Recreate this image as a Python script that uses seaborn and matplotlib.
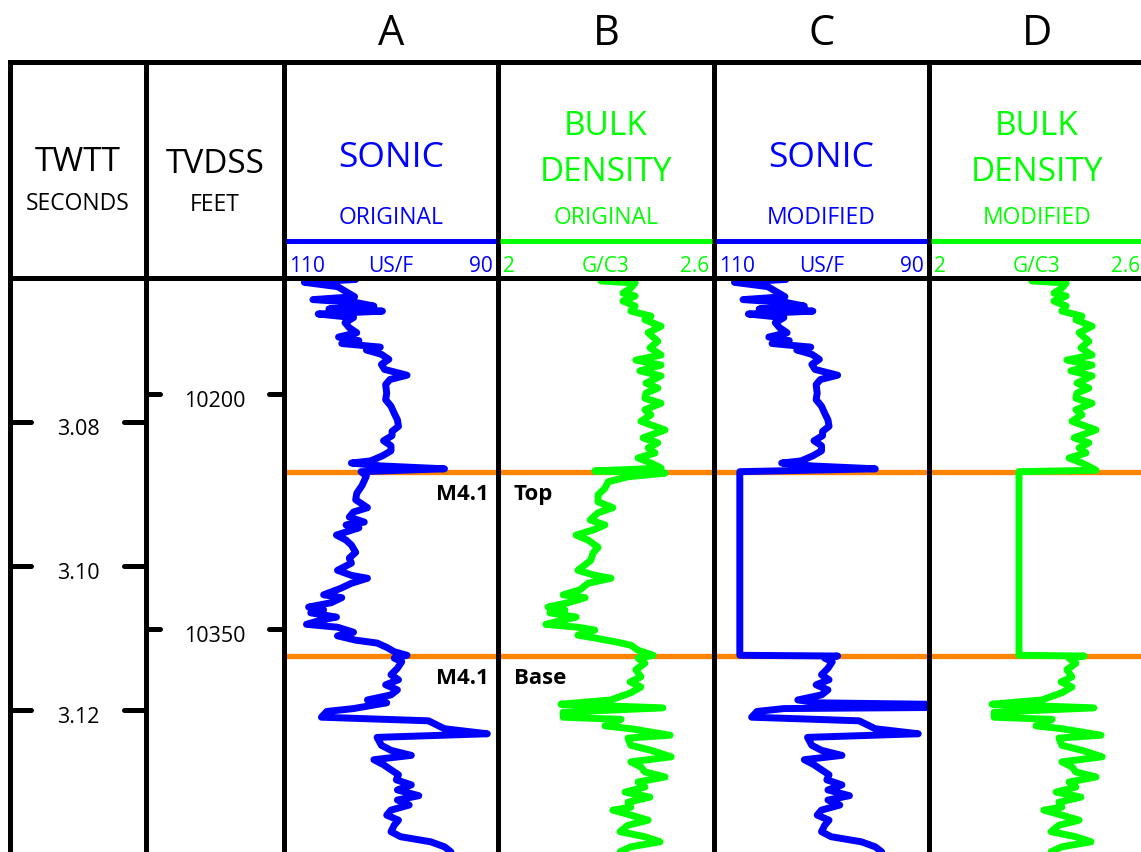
import numpy as np
import pandas as pd
import matplotlib
matplotlib.use("Agg")
import matplotlib.pyplot as plt
import seaborn as sns

# ---------------------------------------------------------------------------
# Log data (two-way time in milliseconds)
# ---------------------------------------------------------------------------
# Sonic, US/F -- above the M4.1 Top marker
sonic_upper_twtt = [3060.0, 3060.2, 3060.6, 3061.2, 3061.9, 3062.6, 3063.0, 3063.4, 3063.9, 3064.3,
                    3064.6, 3065.0, 3065.5, 3066.2, 3066.9, 3067.6, 3068.2, 3068.7, 3069.1, 3069.6,
                    3070.0, 3070.6, 3071.3, 3072.0, 3072.7, 3073.5, 3074.1, 3074.8, 3076.0, 3076.9,
                    3077.8, 3078.8, 3079.7, 3080.6, 3081.3, 3081.9, 3082.6, 3083.3, 3084.0, 3084.7,
                    3085.4, 3085.7, 3086.1, 3086.5]
sonic_upper = [105.0, 103.3, 108.1, 105.0, 104.2, 103.4, 107.3, 103.3, 101.6, 105.8,
               100.8, 106.8, 103.5, 104.3, 103.9, 103.2, 104.9, 103.0, 104.6, 101.0,
               102.3, 100.9, 100.2, 100.9, 100.6, 98.5, 100.1, 100.5, 100.4, 100.5,
               100.0, 99.7, 99.4, 99.3, 99.9, 99.9, 100.7, 100.0, 100.0, 100.8,
               101.9, 103.7, 100.9, 95.0]

# Sonic -- between M4.1 Top and Base
sonic_zone_twtt = [3086.9, 3087.5, 3088.8, 3089.9, 3090.8, 3091.9, 3092.5, 3093.2, 3093.9, 3094.3,
                   3094.7, 3095.7, 3096.4, 3097.1, 3098.1, 3098.9, 3099.6, 3100.6, 3101.3, 3101.7,
                   3102.4, 3103.1, 3104.0, 3104.4, 3105.1, 3105.7, 3106.1, 3106.5, 3107.1, 3107.5,
                   3108.1, 3108.5, 3109.2, 3109.7, 3110.3, 3110.7, 3111.3, 3111.9, 3112.4]
sonic_zone = [102.8, 102.3, 102.7, 103.2, 103.3, 102.2, 103.5, 103.9, 102.5, 104.2,
              103.0, 105.1, 104.2, 103.7, 103.3, 103.9, 103.7, 105.0, 103.7, 102.2,
              103.7, 104.7, 106.3, 104.6, 105.6, 107.7, 106.3, 107.5, 105.1, 106.5,
              107.9, 105.0, 103.5, 105.0, 103.3, 101.3, 100.4, 99.7, 98.5]

# Sonic -- below the M4.1 Base marker
sonic_lower_twtt = [3112.8, 3113.3, 3114.2, 3115.1, 3115.8, 3116.5, 3117.2, 3117.9, 3118.6, 3119.0,
                    3119.8, 3120.2, 3121.0, 3121.5, 3122.6, 3123.3, 3123.8, 3124.9, 3125.6, 3126.3,
                    3126.9, 3127.6, 3128.3, 3129.0, 3129.7, 3130.4, 3131.1, 3131.9, 3132.5, 3133.2,
                    3133.9, 3134.6, 3135.3, 3136.0, 3136.9, 3137.6, 3138.3, 3139.0, 3139.7]
sonic_lower = [99.7, 99.0, 99.4, 100.0, 99.3, 100.5, 99.4, 100.0, 102.2, 100.4,
               103.5, 106.0, 106.5, 96.5, 95.0, 91.0, 101.3, 100.9, 100.0, 98.1,
               101.6, 100.7, 100.0, 99.3, 99.5, 98.1, 99.4, 97.4, 99.4, 98.3,
               100.0, 100.4, 99.3, 99.7, 100.0, 99.1, 96.3, 95.0, 94.4]

# Modified sonic: constant fill across the interval plus an off-scale spike below Base
sonic_fill_twtt = [3086.9, 3112.4, 3112.5]
sonic_fill = [107.6, 107.6, 98.5]
sonic_spike_twtt = [3119.3, 3119.6]
sonic_spike = [85.0, 85.0]

# Bulk density, G/C3 -- above the M4.1 Top marker
density_upper_twtt = [3060.0, 3060.4, 3060.7, 3061.4, 3062.1, 3062.5, 3063.2, 3063.9, 3064.6, 3065.3,
                      3065.8, 3066.7, 3067.6, 3068.8, 3069.7, 3070.7, 3071.4, 3072.1, 3072.9, 3073.6,
                      3074.6, 3075.3, 3076.0, 3076.7, 3077.4, 3078.3, 3079.0, 3079.9, 3080.6, 3081.1,
                      3081.8, 3082.2, 3082.9, 3083.6, 3084.3, 3085.0, 3085.7, 3086.4]
density_upper = [2.330, 2.286, 2.381, 2.369, 2.347, 2.381, 2.347, 2.381, 2.369, 2.425,
                 2.408, 2.453, 2.417, 2.444, 2.422, 2.453, 2.383, 2.453, 2.394, 2.453,
                 2.411, 2.444, 2.411, 2.408, 2.453, 2.408, 2.425, 2.397, 2.436, 2.464,
                 2.425, 2.403, 2.444, 2.417, 2.436, 2.389, 2.425, 2.453]

# Bulk density -- between M4.1 Top and Base
density_zone_twtt = [3086.8, 3087.1, 3087.6, 3088.3, 3089.2, 3090.1, 3091.1, 3091.9, 3092.6, 3093.6,
                     3094.3, 3095.0, 3095.7, 3096.4, 3097.4, 3098.2, 3099.2, 3100.6, 3101.3, 3101.7,
                     3102.4, 3103.3, 3104.0, 3104.4, 3105.1, 3105.7, 3106.1, 3106.5, 3107.1, 3107.5,
                     3108.1, 3108.5, 3108.9, 3109.6, 3110.0, 3110.6, 3111.0, 3111.7, 3112.4]
density_zone = [2.269, 2.464, 2.361, 2.306, 2.297, 2.278, 2.278, 2.319, 2.278, 2.256,
                2.297, 2.264, 2.217, 2.250, 2.278, 2.264, 2.258, 2.222, 2.269, 2.314,
                2.250, 2.228, 2.181, 2.242, 2.194, 2.139, 2.186, 2.144, 2.217, 2.181,
                2.133, 2.222, 2.269, 2.222, 2.269, 2.333, 2.369, 2.389, 2.431]

# Bulk density -- below the M4.1 Base marker
density_lower_twtt = [3112.8, 3113.5, 3114.4, 3115.4, 3116.1, 3116.8, 3117.6, 3118.6, 3119.2, 3119.7,
                      3120.3, 3121.0, 3121.3, 3122.2, 3122.6, 3123.5, 3123.9, 3124.9, 3125.6, 3126.5,
                      3127.2, 3127.9, 3128.6, 3129.3, 3130.0, 3130.7, 3131.4, 3132.1, 3132.8, 3133.5,
                      3133.9, 3134.6, 3135.3, 3136.0, 3136.9, 3137.6, 3138.3, 3139.0, 3139.7]
density_lower = [2.389, 2.408, 2.383, 2.397, 2.367, 2.397, 2.369, 2.314, 2.175, 2.458,
                 2.181, 2.181, 2.342, 2.297, 2.369, 2.478, 2.361, 2.369, 2.425, 2.481,
                 2.369, 2.397, 2.408, 2.464, 2.389, 2.408, 2.353, 2.422, 2.361, 2.369,
                 2.319, 2.369, 2.417, 2.361, 2.339, 2.408, 2.450, 2.369, 2.339]

# Modified density: constant fill across the interval
density_fill_twtt = [3086.7, 3086.9, 3112.4, 3112.5]
density_fill = [2.464, 2.250, 2.250, 2.431]

# Formation markers
marker_twtt = [3086.9, 3112.5]
marker_names = ["Top", "Base"]
marker_unit = "M4.1"

# Depth scales
twtt_ticks = [3.08, 3.10, 3.12]          # seconds
tvdss_ticks = [10200, 10350]             # feet
track_letters = ["A", "B", "C", "D"]
sonic_range = (110, 90)
density_range = (2, 2.6)

# ---------------------------------------------------------------------------
# Build the four curves
# ---------------------------------------------------------------------------
def frame(twtt, value):
    return pd.DataFrame({"twtt": np.asarray(twtt, float), "value": np.asarray(value, float)})

sonic_orig = frame(sonic_upper_twtt + sonic_zone_twtt + sonic_lower_twtt,
                   sonic_upper + sonic_zone + sonic_lower)

lower_mod = frame(sonic_lower_twtt + sonic_spike_twtt, sonic_lower + sonic_spike)
lower_mod = lower_mod.sort_values("twtt", kind="stable")
sonic_mod = pd.concat([frame(sonic_upper_twtt, sonic_upper),
                       frame(sonic_fill_twtt, sonic_fill),
                       lower_mod], ignore_index=True)

density_orig = frame(density_upper_twtt + density_zone_twtt + density_lower_twtt,
                     density_upper + density_zone + density_lower)
density_mod = frame(density_upper_twtt + density_fill_twtt + density_lower_twtt,
                    density_upper + density_fill + density_lower)

# ---------------------------------------------------------------------------
# Styling and layout
# ---------------------------------------------------------------------------
sns.set_theme(style="white")
plt.rcParams["font.family"] = ["Open Sans", "DejaVu Sans"]

BLUE = "#0000ff"
GREEN = "#00ff00"
ORANGE = "#ff8400"
BLACK = "#000000"

W, H, DPI = 1141, 852, 100
HEADER_TOP, HEADER_BOTTOM, PLOT_BOTTOM = 62, 278, 852
COL_EDGES = [10, 146, 284, 498, 714, 929, 1145]
TWTT_TOP, TWTT_BOTTOM = 3060.0, 3139.72          # ms at top / bottom of the log area
TVDSS_TOP, TVDSS_BOTTOM = 10126.0, 10492.3       # ft at top / bottom of the log area

fig = plt.figure(figsize=(W / DPI, H / DPI), dpi=DPI)
fig.patch.set_facecolor("white")


def px_rect(x0, x1, y0, y1):
    return [x0 / W, 1 - y1 / H, (x1 - x0) / W, (y1 - y0) / H]


tracks = [
    dict(letter="A", title=["SONIC"], sub="ORIGINAL", color=BLUE, lim=sonic_range, unit="US/F", data=sonic_orig),
    dict(letter="B", title=["BULK", "DENSITY"], sub="ORIGINAL", color=GREEN, lim=density_range, unit="G/C3", data=density_orig),
    dict(letter="C", title=["SONIC"], sub="MODIFIED", color=BLUE, lim=sonic_range, unit="US/F", data=sonic_mod),
    dict(letter="D", title=["BULK", "DENSITY"], sub="MODIFIED", color=GREEN, lim=density_range, unit="G/C3", data=density_mod),
]

track_axes = []
for i, cfg in enumerate(tracks):
    x0, x1 = COL_EDGES[i + 2], COL_EDGES[i + 3]
    ax = fig.add_axes(px_rect(x0, x1, HEADER_BOTTOM, PLOT_BOTTOM))
    ax.set_axis_off()
    for m in marker_twtt:
        ax.axhline(m, color=ORANGE, lw=3.8, zorder=1)
    sns.lineplot(data=cfg["data"], x="value", y="twtt", sort=False, estimator=None, orient="y",
                 color=cfg["color"], lw=5.0, ax=ax, zorder=3,
                 solid_joinstyle="round", solid_capstyle="round")
    ax.set_xlim(*cfg["lim"])
    ax.set_ylim(TWTT_BOTTOM, TWTT_TOP)
    track_axes.append(ax)

# Marker labels
for m, name in zip(marker_twtt, marker_names):
    track_axes[0].annotate(marker_unit, xy=(1, m), xycoords=track_axes[0].get_yaxis_transform(),
                           xytext=(-9, -28), textcoords="offset pixels", ha="right", va="baseline",
                           fontsize=16, fontweight="bold", color=BLACK)
    track_axes[1].annotate(name, xy=(0, m), xycoords=track_axes[1].get_yaxis_transform(),
                           xytext=(16, -28), textcoords="offset pixels", ha="left", va="baseline",
                           fontsize=16, fontweight="bold", color=BLACK)

# TWTT column
ax_t = fig.add_axes(px_rect(COL_EDGES[0], COL_EDGES[1], HEADER_BOTTOM, PLOT_BOTTOM))
ax_t.set_axis_off()
ax_t.set_xlim(0, 1)
ax_t.set_ylim(TWTT_BOTTOM, TWTT_TOP)
tick_ms = [t * 1000 for t in twtt_ticks]
ax_t.hlines(tick_ms, 0, 0.155, color=BLACK, lw=3.6, capstyle="round", clip_on=False)
ax_t.hlines(tick_ms, 0.838, 1, color=BLACK, lw=3.6, capstyle="round", clip_on=False)
for t in twtt_ticks:
    ax_t.annotate(f"{t:.2f}", xy=(0.5, t * 1000), xytext=(0, -13), textcoords="offset pixels",
                  ha="center", va="baseline", fontsize=15.5, color=BLACK)

# TVDSS column
ax_d = fig.add_axes(px_rect(COL_EDGES[1], COL_EDGES[2], HEADER_BOTTOM, PLOT_BOTTOM))
ax_d.set_axis_off()
ax_d.set_xlim(0, 1)
ax_d.set_ylim(TVDSS_BOTTOM, TVDSS_TOP)
ax_d.hlines(tvdss_ticks, 0, 0.10, color=BLACK, lw=3.6, capstyle="round", clip_on=False)
ax_d.hlines(tvdss_ticks, 0.891, 1, color=BLACK, lw=3.6, capstyle="round", clip_on=False)
for d in tvdss_ticks:
    ax_d.annotate(f"{d}", xy=(0.5, d), xytext=(0, -13), textcoords="offset pixels",
                  ha="center", va="baseline", fontsize=15.5, color=BLACK)

# Header and frame, drawn in pixel space over everything
ov = fig.add_axes([0, 0, 1, 1], zorder=10)
ov.set_xlim(0, W)
ov.set_ylim(H, 0)
ov.set_axis_off()
ov.patch.set_alpha(0)

FRAME_LW = 3.6
for y in (HEADER_TOP, HEADER_BOTTOM):
    ov.plot([COL_EDGES[0], W + 5], [y, y], color=BLACK, lw=FRAME_LW, solid_capstyle="projecting")
for x in COL_EDGES[:-1]:
    ov.plot([x, x], [HEADER_TOP, PLOT_BOTTOM + 5], color=BLACK, lw=FRAME_LW, solid_capstyle="projecting")

ov.text(78, 171, "TWTT", ha="center", va="baseline", fontsize=24, color=BLACK)
ov.text(78, 210, "SECONDS", ha="center", va="baseline", fontsize=16.5, color=BLACK)
ov.text(215, 173, "TVDSS", ha="center", va="baseline", fontsize=24, color=BLACK)
ov.text(215, 211, "FEET", ha="center", va="baseline", fontsize=16.5, color=BLACK)

for i, cfg in enumerate(tracks):
    x0, x1 = COL_EDGES[i + 2], COL_EDGES[i + 3]
    xc = (x0 + x1) / 2
    col = cfg["color"]
    ov.text(xc, 45, cfg["letter"], ha="center", va="baseline", fontsize=30, color=BLACK)
    if len(cfg["title"]) == 1:
        ov.text(xc, 167, cfg["title"][0], ha="center", va="baseline", fontsize=25.5, color=col)
    else:
        ov.text(xc, 135, cfg["title"][0], ha="center", va="baseline", fontsize=24, color=col)
        ov.text(xc, 181, cfg["title"][1], ha="center", va="baseline", fontsize=24, color=col)
    ov.text(xc, 224, cfg["sub"], ha="center", va="baseline", fontsize=16.5, color=col)
    ov.plot([x0 + 2, x1 - 2], [240.5, 240.5], color=col, lw=3.6, solid_capstyle="butt")
    lo, hi = cfg["lim"]
    ov.text(x0 + 5, 272, f"{lo:g}", ha="left", va="baseline", fontsize=15, color=col)
    ov.text(xc, 272, cfg["unit"], ha="center", va="baseline", fontsize=15, color=col)
    ov.text(x1 - 5, 272, f"{hi:g}", ha="right", va="baseline", fontsize=15, color=col)

fig.savefig("out.png", dpi=DPI, facecolor="white")
